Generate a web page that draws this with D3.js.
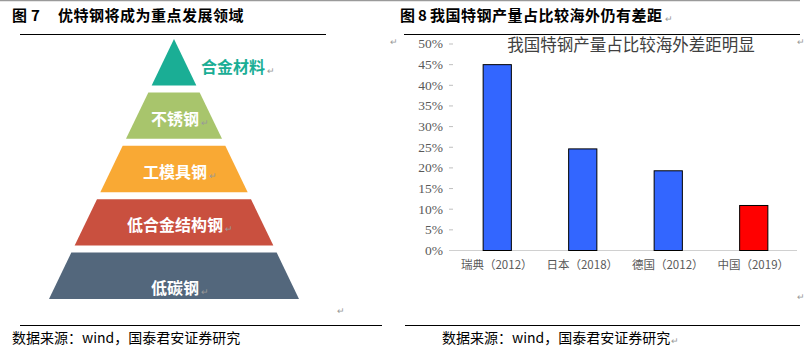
<!DOCTYPE html>
<html>
<head>
<meta charset="utf-8">
<script src="https://cdn.jsdelivr.net/npm/d3@7"></script>
<style>
  html, body { margin: 0; padding: 0; background: #fff; }
  svg { display: block; }
</style>
</head>
<body>
<div id="chart"></div>
<script>
// 左图：金字塔层级（自上而下）
const tiers = ['合金材料', '不锈钢', '工模具钢', '低合金结构钢', '低碳钢'];
const tierColors = ['#1aae95', '#a8c56c', '#f9a934', '#c9503f', '#53677c'];

// 右图：特钢产量占比
const countries = ['瑞典（2012）', '日本（2018）', '德国（2012）', '中国（2019）'];
const shares = [0.45, 0.246, 0.193, 0.109];
const barColors = ['#3366ff', '#3366ff', '#3366ff', '#ff0000'];
const yTicks = [0, 0.05, 0.1, 0.15, 0.2, 0.25, 0.3, 0.35, 0.4, 0.45, 0.5];

const W = 808, H = 352;
const cjk = '"Noto Sans CJK SC", sans-serif';
const serif = '"Liberation Serif", "Noto Sans CJK SC", serif';

const svg = d3.select('#chart').append('svg')
    .attr('width', W)
    .attr('height', H);

// 段落标记 ↵
function mark(x, y) {
    svg.append('text').attr('x', x).attr('y', y)
        .style('font-family', cjk).style('font-size', '9px').attr('fill', '#999')
        .text('↵');
}

// 顶部灰线
svg.append('line')
    .attr('x1', 0).attr('x2', 800).attr('y1', 0.5).attr('y2', 0.5)
    .attr('stroke', '#9a9a9a').attr('stroke-width', 1.5);

// 标题
function header(x, numX, titleX, num, title) {
    const st = sel => sel
        .style('font-family', cjk).style('font-weight', 'bold').style('font-size', '15px')
        .attr('fill', '#000');
    svg.append('text').attr('x', x).attr('y', 21).text('图').call(st);
    svg.append('text').attr('x', numX).attr('y', 21).text(num).call(st);
    return svg.append('text')
        .attr('x', titleX).attr('y', 21)
        .style('letter-spacing', '0.5px')
        .text(title).call(st);
}
header(12, 31, 58, '7', '优特钢将成为重点发展领域');
const h8 = header(400, 418, 430, '8', '我国特钢产量占比较海外仍有差距');
mark(430 + h8.node().getComputedTextLength() + 2, 22);

svg.append('line').attr('x1', 20).attr('x2', 326).attr('y1', 34.5).attr('y2', 34.5)
    .attr('stroke', '#000').attr('stroke-width', 1);
svg.append('line').attr('x1', 404).attr('x2', 800).attr('y1', 34.5).attr('y2', 34.5)
    .attr('stroke', '#000').attr('stroke-width', 1);

// ---------- 金字塔 ----------
const apexX = 174;
const yTier = d3.scaleBand()
    .domain(tiers)
    .range([39, 299])
    .paddingInner(0.13);
// 半宽随 y 线性增大
const halfW = d3.scaleLinear().domain([39, 299]).range([0, 125]);

const pyr = svg.append('g');
pyr.selectAll('path')
    .data(tiers)
    .enter()
    .append('path')
    .attr('d', d => {
        const y0 = yTier(d), y1 = yTier(d) + yTier.bandwidth();
        const w0 = halfW(y0), w1 = halfW(y1);
        return `M${apexX - w0},${y0}L${apexX + w0},${y0}L${apexX + w1},${y1}L${apexX - w1},${y1}Z`;
    })
    .attr('fill', (d, i) => tierColors[i]);

pyr.selectAll('text.tier')
    .data(tiers)
    .enter()
    .append('text')
    .attr('class', 'tier')
    .attr('x', (d, i) => i === 0 ? 201 : apexX + 1)
    .attr('y', (d, i) => yTier(d) + yTier.bandwidth() / 2 + (i === 0 ? 11 : i === 4 ? 18 : 9))
    .attr('text-anchor', (d, i) => i === 0 ? 'start' : 'middle')
    .style('font-family', cjk).style('font-weight', 'bold').style('font-size', '16px')
    .attr('fill', (d, i) => i === 0 ? tierColors[0] : '#fff')
    .text(d => d)
    .each(function(d, i) {
        const len = this.getComputedTextLength();
        const x0 = +this.getAttribute('x');
        const xe = i === 0 ? x0 + len : x0 + len / 2;
        mark(xe + 2, +this.getAttribute('y') + 1);
    });

// ---------- 柱状图 ----------
const x = d3.scaleBand()
    .domain(countries)
    .range([454, 796])
    .paddingInner(0.67)
    .paddingOuter(0.335);
const y = d3.scaleLinear().domain([0, 0.5]).range([250, 43.5]);

const yAxis = d3.axisLeft(y)
    .tickValues(yTicks)
    .tickFormat(d3.format('.0%'))
    .tickSize(4)
    .tickPadding(6);
const yg = svg.append('g').attr('transform', 'translate(453,0)').call(yAxis);
yg.select('.domain').remove();
yg.selectAll('.tick line').attr('stroke', '#bfbfbf');
yg.selectAll('.tick text')
    .style('font-family', serif).style('font-size', '13.5px').attr('fill', '#595959');

svg.append('line')
    .attr('x1', 449).attr('x2', 797).attr('y1', y(0) + 0.5).attr('y2', y(0) + 0.5)
    .attr('stroke', '#d0d0d0');

svg.append('g').selectAll('rect')
    .data(shares)
    .enter()
    .append('rect')
    .attr('x', (d, i) => x(countries[i]) + 0.5)
    .attr('y', d => y(d) + 0.5)
    .attr('width', x.bandwidth())
    .attr('height', d => y(0) - y(d))
    .attr('fill', (d, i) => barColors[i])
    .attr('stroke', '#000')
    .attr('stroke-width', 1);

svg.append('g').selectAll('text')
    .data(countries)
    .enter()
    .append('text')
    .attr('x', d => x(d) + x.bandwidth() / 2)
    .attr('y', 269)
    .attr('text-anchor', 'middle')
    .style('font-family', cjk).style('font-size', '11.5px').attr('fill', '#595959')
    .text(d => d);

svg.append('text')
    .attr('x', 631).attr('y', 51)
    .attr('text-anchor', 'middle')
    .style('font-family', cjk).style('font-size', '16.5px').attr('fill', '#404040')
    .text('我国特钢产量占比较海外差距明显');

[[390, 45], [797, 45], [337, 314], [797, 300]].forEach(p => mark(p[0], p[1]));

// ---------- 底部 ----------
svg.append('line').attr('x1', 20).attr('x2', 382).attr('y1', 325.5).attr('y2', 325.5)
    .attr('stroke', '#000');
svg.append('line').attr('x1', 405).attr('x2', 800).attr('y1', 325.5).attr('y2', 325.5)
    .attr('stroke', '#000');
svg.append('text').attr('x', 12).attr('y', 343)
    .style('font-family', cjk).style('font-size', '14px')
    .attr('fill', '#000')
    .text('数据来源：wind，国泰君安证券研究');
const src = svg.append('text').attr('x', 442).attr('y', 343)
    .style('font-family', cjk).style('font-size', '14px')
    .attr('fill', '#000')
    .text('数据来源：wind，国泰君安证券研究');
mark(442 + src.node().getComputedTextLength() + 1, 344);
</script>
</body>
</html>
